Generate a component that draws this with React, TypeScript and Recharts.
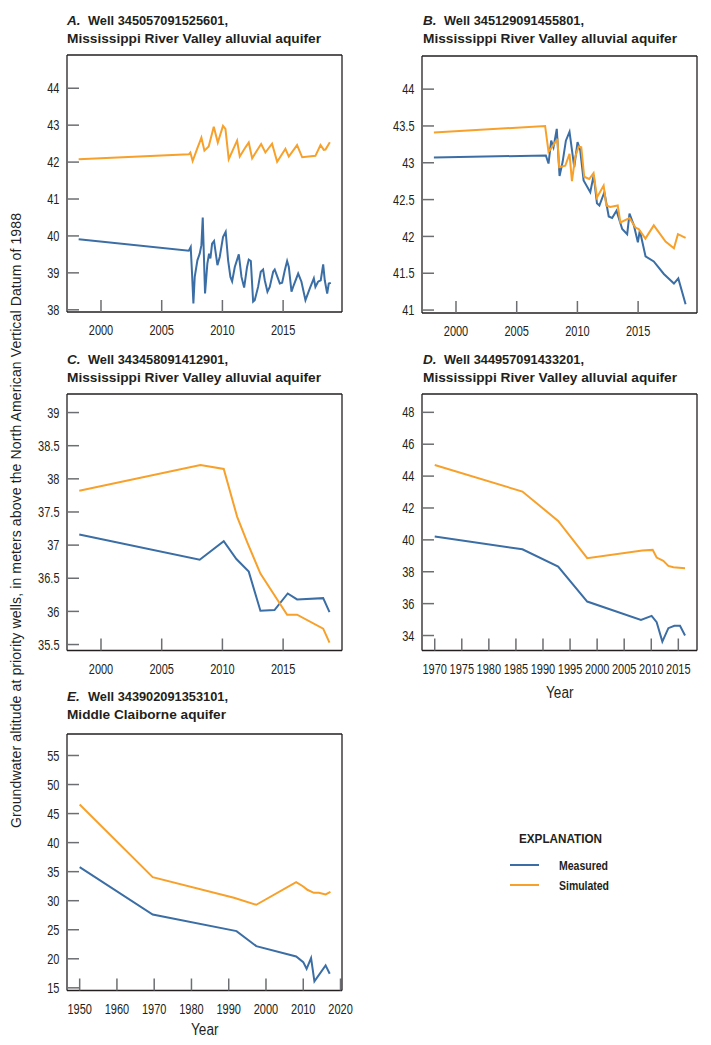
import React from 'react';
import { LineChart, Line, XAxis, YAxis } from 'recharts';

type Pt = { year: number; level: number };

// Panel A, well 345057091525601
const measuredA: Pt[] = [
  { year: 1998.16, level: 39.91 }, { year: 2007.23, level: 39.6 }, { year: 2007.39, level: 39.7 },
  { year: 2007.5, level: 38.98 }, { year: 2007.61, level: 38.17 }, { year: 2007.72, level: 38.89 },
  { year: 2007.94, level: 39.34 }, { year: 2008.13, level: 39.52 }, { year: 2008.27, level: 39.75 },
  { year: 2008.38, level: 40.5 }, { year: 2008.57, level: 38.44 }, { year: 2008.76, level: 39.25 },
  { year: 2008.9, level: 39.52 }, { year: 2009.01, level: 39.39 }, { year: 2009.15, level: 39.79 },
  { year: 2009.31, level: 39.86 }, { year: 2009.59, level: 39.21 }, { year: 2009.78, level: 39.43 },
  { year: 2010.05, level: 39.97 }, { year: 2010.27, level: 40.11 }, { year: 2010.47, level: 39.34 },
  { year: 2010.66, level: 38.89 }, { year: 2010.8, level: 38.77 }, { year: 2011.02, level: 39.16 },
  { year: 2011.35, level: 39.5 }, { year: 2011.57, level: 38.89 }, { year: 2011.79, level: 38.6 },
  { year: 2012.03, level: 39.16 }, { year: 2012.17, level: 39.36 }, { year: 2012.34, level: 39.32 },
  { year: 2012.53, level: 38.22 }, { year: 2012.66, level: 38.26 }, { year: 2012.94, level: 38.62 },
  { year: 2013.16, level: 39.03 }, { year: 2013.35, level: 39.09 }, { year: 2013.49, level: 38.8 },
  { year: 2013.71, level: 38.49 }, { year: 2013.9, level: 38.62 }, { year: 2014.18, level: 39.03 },
  { year: 2014.31, level: 39.09 }, { year: 2014.53, level: 38.89 }, { year: 2014.73, level: 38.71 },
  { year: 2014.92, level: 38.73 }, { year: 2015.14, level: 39.07 }, { year: 2015.33, level: 39.32 },
  { year: 2015.47, level: 39.16 }, { year: 2015.69, level: 38.49 }, { year: 2015.88, level: 38.67 },
  { year: 2016.24, level: 38.98 }, { year: 2016.51, level: 38.76 }, { year: 2016.84, level: 38.26 },
  { year: 2017.2, level: 38.58 }, { year: 2017.53, level: 38.85 }, { year: 2017.66, level: 38.62 },
  { year: 2017.88, level: 38.76 }, { year: 2018.1, level: 38.8 }, { year: 2018.3, level: 39.23 },
  { year: 2018.43, level: 38.8 }, { year: 2018.63, level: 38.44 }, { year: 2018.76, level: 38.71 },
  { year: 2018.93, level: 38.73 },
];
const simulatedA: Pt[] = [
  { year: 1998.16, level: 42.08 }, { year: 2007.23, level: 42.21 }, { year: 2007.36, level: 42.26 },
  { year: 2007.55, level: 42.03 }, { year: 2007.91, level: 42.35 }, { year: 2008.27, level: 42.66 },
  { year: 2008.52, level: 42.31 }, { year: 2008.87, level: 42.42 }, { year: 2009.29, level: 42.96 },
  { year: 2009.62, level: 42.53 }, { year: 2010.05, level: 42.98 }, { year: 2010.25, level: 42.9 },
  { year: 2010.52, level: 42.08 }, { year: 2010.93, level: 42.38 }, { year: 2011.21, level: 42.58 },
  { year: 2011.43, level: 42.15 }, { year: 2011.9, level: 42.4 }, { year: 2012.17, level: 42.53 },
  { year: 2012.45, level: 42.1 }, { year: 2012.86, level: 42.32 }, { year: 2013.19, level: 42.49 },
  { year: 2013.54, level: 42.26 }, { year: 2014.09, level: 42.5 }, { year: 2014.51, level: 42.01 },
  { year: 2015.19, level: 42.36 }, { year: 2015.47, level: 42.15 }, { year: 2016.15, level: 42.46 },
  { year: 2016.57, level: 42.13 }, { year: 2017.66, level: 42.17 }, { year: 2018.08, level: 42.46 },
  { year: 2018.35, level: 42.33 }, { year: 2018.49, level: 42.34 }, { year: 2018.85, level: 42.54 },
];

// Panel B, well 345129091455801
const measuredB: Pt[] = [
  { year: 1998.18, level: 43.07 }, { year: 2007.4, level: 43.1 }, { year: 2007.62, level: 42.99 },
  { year: 2007.84, level: 43.3 }, { year: 2008.03, level: 43.21 }, { year: 2008.3, level: 43.46 },
  { year: 2008.53, level: 42.82 }, { year: 2008.78, level: 43.01 }, { year: 2009.05, level: 43.3 },
  { year: 2009.35, level: 43.42 }, { year: 2009.74, level: 42.94 }, { year: 2010.01, level: 43.28 },
  { year: 2010.23, level: 43.17 }, { year: 2010.51, level: 42.76 }, { year: 2011.06, level: 42.6 },
  { year: 2011.34, level: 42.83 }, { year: 2011.61, level: 42.45 }, { year: 2011.81, level: 42.42 },
  { year: 2012.22, level: 42.6 }, { year: 2012.58, level: 42.27 }, { year: 2012.86, level: 42.25 },
  { year: 2013.22, level: 42.35 }, { year: 2013.69, level: 42.1 }, { year: 2014.1, level: 42.03 },
  { year: 2014.29, level: 42.31 }, { year: 2014.65, level: 42.15 }, { year: 2014.98, level: 41.92 },
  { year: 2015.14, level: 42.08 }, { year: 2015.61, level: 41.73 }, { year: 2016.29, level: 41.66 },
  { year: 2017.12, level: 41.49 }, { year: 2017.95, level: 41.36 }, { year: 2018.31, level: 41.43 },
  { year: 2018.91, level: 41.08 },
];
const simulatedB: Pt[] = [
  { year: 1998.18, level: 43.41 }, { year: 2007.34, level: 43.5 }, { year: 2007.62, level: 43.15 },
  { year: 2007.9, level: 43.21 }, { year: 2008.17, level: 43.28 }, { year: 2008.36, level: 43.31 },
  { year: 2008.5, level: 42.94 }, { year: 2009.0, level: 42.96 }, { year: 2009.35, level: 43.12 },
  { year: 2009.55, level: 42.75 }, { year: 2009.82, level: 43.08 }, { year: 2010.1, level: 43.22 },
  { year: 2010.32, level: 43.21 }, { year: 2010.56, level: 42.81 }, { year: 2010.97, level: 42.78 },
  { year: 2011.33, level: 42.86 }, { year: 2011.61, level: 42.53 }, { year: 2012.16, level: 42.69 },
  { year: 2012.38, level: 42.42 }, { year: 2012.71, level: 42.4 }, { year: 2013.32, level: 42.42 },
  { year: 2013.54, level: 42.19 }, { year: 2014.29, level: 42.25 }, { year: 2014.78, level: 42.12 },
  { year: 2015.05, level: 42.1 }, { year: 2015.6, level: 41.97 }, { year: 2016.29, level: 42.15 },
  { year: 2017.26, level: 41.93 }, { year: 2017.95, level: 41.84 }, { year: 2018.28, level: 42.03 },
  { year: 2018.91, level: 41.98 },
];

// Panel C, well 343458091412901
const measuredC: Pt[] = [
  { year: 1998.21, level: 37.16 }, { year: 2008.13, level: 36.78 }, { year: 2010.11, level: 37.06 },
  { year: 2011.15, level: 36.79 }, { year: 2012.17, level: 36.6 }, { year: 2013.13, level: 36.01 },
  { year: 2014.29, level: 36.02 }, { year: 2015.38, level: 36.27 }, { year: 2016.15, level: 36.18 },
  { year: 2018.3, level: 36.2 }, { year: 2018.82, level: 35.99 },
];
const simulatedC: Pt[] = [
  { year: 1998.21, level: 37.82 }, { year: 2008.19, level: 38.21 }, { year: 2010.11, level: 38.15 },
  { year: 2011.21, level: 37.43 }, { year: 2012.03, level: 37.05 }, { year: 2013.13, level: 36.57 },
  { year: 2015.33, level: 35.95 }, { year: 2016.15, level: 35.95 }, { year: 2018.3, level: 35.74 },
  { year: 2018.82, level: 35.53 },
];

// Panel D, well 344957091433201
const measuredD: Pt[] = [
  { year: 1970, level: 40.21 }, { year: 1986.2, level: 39.41 }, { year: 1992.8, level: 38.33 },
  { year: 1998.17, level: 36.13 }, { year: 2008.1, level: 34.98 }, { year: 2010.07, level: 35.23 },
  { year: 2011.0, level: 34.84 }, { year: 2012.05, level: 33.62 }, { year: 2013.16, level: 34.46 },
  { year: 2014.27, level: 34.61 }, { year: 2015.31, level: 34.61 }, { year: 2016.24, level: 34.0 },
];
const simulatedD: Pt[] = [
  { year: 1970, level: 44.7 }, { year: 1986.2, level: 43.03 }, { year: 1992.8, level: 41.19 },
  { year: 1998.17, level: 38.85 }, { year: 2008.35, level: 39.33 }, { year: 2010.26, level: 39.37 },
  { year: 2011.0, level: 38.89 }, { year: 2012.23, level: 38.68 }, { year: 2013.16, level: 38.37 },
  { year: 2014.08, level: 38.28 }, { year: 2016.24, level: 38.22 },
];

// Panel E, well 343902091353101
const measuredE: Pt[] = [
  { year: 1950, level: 35.78 }, { year: 1969.6, level: 27.63 }, { year: 1992.1, level: 24.77 },
  { year: 1997.4, level: 22.18 }, { year: 2008.1, level: 20.4 }, { year: 2010.0, level: 19.43 },
  { year: 2010.9, level: 18.28 }, { year: 2012.1, level: 20.12 }, { year: 2013.0, level: 16.1 },
  { year: 2016.0, level: 18.86 }, { year: 2017.1, level: 17.42 },
];
const simulatedE: Pt[] = [
  { year: 1950, level: 46.57 }, { year: 1969.6, level: 34.06 }, { year: 1991.4, level: 30.5 },
  { year: 1997.4, level: 29.3 }, { year: 2008.1, level: 33.2 }, { year: 2010.0, level: 32.45 },
  { year: 2011.1, level: 31.88 }, { year: 2012.85, level: 31.36 }, { year: 2014.2, level: 31.36 },
  { year: 2016.0, level: 31.08 }, { year: 2017.3, level: 31.53 },
];

const recentYearTicks = [2000, 2005, 2010, 2015];
const longYearTicksD = [1970, 1975, 1980, 1985, 1990, 1995, 2000, 2005, 2010, 2015];
const longYearTicksE = [1950, 1960, 1970, 1980, 1990, 2000, 2010, 2020];
const levelTicksA = [38, 39, 40, 41, 42, 43, 44];
const levelTicksB = [41, 41.5, 42, 42.5, 43, 43.5, 44];
const levelTicksC = [35.5, 36, 36.5, 37, 37.5, 38, 38.5, 39];
const levelTicksD = [34, 36, 38, 40, 42, 44, 46, 48];
const levelTicksE = [15, 20, 25, 30, 35, 40, 45, 50, 55];

const BLUE = '#3b6ea5';
const ORANGE = '#f7a12b';
const INK = '#231f20';
const SANS = "'Liberation Sans', Arial, sans-serif";
// the source uses a condensed face; squeeze Liberation Sans to match
const SQUEEZE = 0.76;

const Y_AXIS_W = 52;
const X_AXIS_H = 36;
const RIGHT_PAD = 24;

const XTick = (props: any) => {
  const { x, y, payload } = props;
  return (
    <g transform={`translate(${x},${y}) scale(${SQUEEZE},1)`}>
      <text x={0} y={0} dy="0.71em" textAnchor="middle" fontFamily={SANS} fontSize={14.5} fill={INK}>
        {payload.value}
      </text>
    </g>
  );
};

const YTick = (props: any) => {
  const { x, y, payload } = props;
  return (
    <g transform={`translate(${x},${y}) scale(${SQUEEZE},1)`}>
      <text x={0} y={0} dy="0.355em" textAnchor="end" fontFamily={SANS} fontSize={14.5} fill={INK}>
        {payload.value}
      </text>
    </g>
  );
};

interface PanelProps {
  left: number;
  top: number;
  plotW: number;
  plotH: number;
  xDomain: [number, number];
  xTicks: number[];
  yDomain: [number, number];
  yTicks: number[];
  measured: Pt[];
  simulated: Pt[];
}

const frameLine = { stroke: INK, strokeWidth: 1.3 };
const tickLine = { stroke: '#6d6e71', strokeWidth: 1.5 };

const Panel: React.FC<PanelProps> = ({ left, top, plotW, plotH, xDomain, xTicks, yDomain, yTicks, measured, simulated }) => (
  <div style={{ position: 'absolute', left: left - Y_AXIS_W, top: top - 1 }}>
    <LineChart width={plotW + Y_AXIS_W + 1 + RIGHT_PAD} height={plotH + 1 + X_AXIS_H}
      margin={{ top: 0, right: RIGHT_PAD, bottom: 0, left: 0 }}>
      <XAxis xAxisId="b" type="number" dataKey="year" domain={xDomain} ticks={xTicks} allowDataOverflow interval={0}
        height={X_AXIS_H} tickSize={-12} tickMargin={25} axisLine={frameLine} tickLine={tickLine} tick={<XTick />} />
      <XAxis xAxisId="t" orientation="top" type="number" dataKey="year" domain={xDomain} ticks={xTicks} allowDataOverflow
        interval={0} height={1} tickSize={-12} axisLine={frameLine} tickLine={tickLine} tick={false} />
      <YAxis yAxisId="l" type="number" domain={yDomain} ticks={yTicks} allowDataOverflow interval={0}
        width={Y_AXIS_W} tickSize={-12} tickMargin={19.5} axisLine={frameLine} tickLine={tickLine} tick={<YTick />} />
      <YAxis yAxisId="r" orientation="right" type="number" domain={yDomain} ticks={yTicks} allowDataOverflow interval={0}
        width={1} tickSize={-12} axisLine={frameLine} tickLine={tickLine} tick={false} />
      <Line xAxisId="b" yAxisId="l" data={measured} dataKey="level" type="linear" stroke={BLUE} strokeWidth={2}
        dot={false} activeDot={false} isAnimationActive={false} />
      <Line xAxisId="b" yAxisId="l" data={simulated} dataKey="level" type="linear" stroke={ORANGE} strokeWidth={2}
        dot={false} activeDot={false} isAnimationActive={false} />
    </LineChart>
  </div>
);

const Title = ({ x, y, letter, well, aquifer, aquiferW }: {
  x: number; y: number; letter: string; well: string; aquifer: string; aquiferW: number;
}) => (
  <g fontFamily={SANS} fontWeight="bold" fill={INK}>
    <text x={x} y={y} fontSize={13.5} fontStyle="italic">{letter}.</text>
    <text x={x + 21} y={y} fontSize={12.8} textLength={140} lengthAdjust="spacingAndGlyphs">Well {well},</text>
    <text x={x} y={y + 18} fontSize={13.5} textLength={aquiferW} lengthAdjust="spacingAndGlyphs">{aquifer}</text>
  </g>
);

const MRVA = 'Mississippi River Valley alluvial aquifer';

export default function App() {
  return (
    <div style={{ position: 'absolute', left: 0, top: 0, width: 711, height: 1045, background: '#fff' }}>
      <svg width={711} height={1045} style={{ position: 'absolute', left: 0, top: 0 }}>
        <Title x={67} y={25} letter="A" well="345057091525601" aquifer={MRVA} aquiferW={254} />
        <Title x={423} y={25} letter="B" well="345129091455801" aquifer={MRVA} aquiferW={254} />
        <Title x={67} y={363.5} letter="C" well="343458091412901" aquifer={MRVA} aquiferW={254} />
        <Title x={423} y={363.5} letter="D" well="344957091433201" aquifer={MRVA} aquiferW={254} />
        <Title x={67} y={701} letter="E" well="343902091353101" aquifer="Middle Claiborne aquifer" aquiferW={159} />
        <text x={21} y={520.5} transform="rotate(-90 21 520.5)" textAnchor="middle" fontFamily={SANS}
          fontSize={14} fill={INK} textLength={615} lengthAdjust="spacing">
          Groundwater altitude at priority wells, in meters above the North American Vertical Datum of 1988
        </text>
        <text x={546} y={698} fontFamily={SANS} fontSize={16} fill={INK} textLength={27.5}
          lengthAdjust="spacingAndGlyphs">Year</text>
        <text x={191} y={1035} fontFamily={SANS} fontSize={16} fill={INK} textLength={27.5}
          lengthAdjust="spacingAndGlyphs">Year</text>
        <g fontFamily={SANS} fontWeight="bold" fill={INK}>
          <text x={519} y={843} fontSize={13} textLength={83} lengthAdjust="spacingAndGlyphs">EXPLANATION</text>
          <line x1={510} x2={539} y1={865} y2={865} stroke={BLUE} strokeWidth={2} />
          <line x1={510} x2={539} y1={885} y2={885} stroke={ORANGE} strokeWidth={2} />
          <text x={559} y={870} fontSize={12} textLength={49} lengthAdjust="spacingAndGlyphs">Measured</text>
          <text x={559} y={890} fontSize={12} textLength={50} lengthAdjust="spacingAndGlyphs">Simulated</text>
        </g>
      </svg>
      <Panel left={66.5} top={55} plotW={275} plotH={257} xDomain={[1997.2, 2019.85]} xTicks={recentYearTicks}
        yDomain={[37.94, 44.9]} yTicks={levelTicksA} measured={measuredA} simulated={simulatedA} />
      <Panel left={422.3} top={55.5} plotW={275} plotH={257} xDomain={[1997.2, 2019.85]} xTicks={recentYearTicks}
        yDomain={[40.96, 44.45]} yTicks={levelTicksB} measured={measuredB} simulated={simulatedB} />
      <Panel left={66.5} top={394} plotW={275} plotH={256.5} xDomain={[1997.2, 2019.85]} xTicks={recentYearTicks}
        yDomain={[35.41, 39.28]} yTicks={levelTicksC} measured={measuredC} simulated={simulatedC} />
      <Panel left={422.3} top={394} plotW={275} plotH={256.5} xDomain={[1967.65, 2018.45]} xTicks={longYearTicksD}
        yDomain={[33.06, 49.15]} yTicks={levelTicksD} measured={measuredD} simulated={simulatedD} />
      <Panel left={66.5} top={733.5} plotW={275} plotH={256.5} xDomain={[1946.6, 2020.4]} xTicks={longYearTicksE}
        yDomain={[14.54, 58.7]} yTicks={levelTicksE} measured={measuredE} simulated={simulatedE} />
    </div>
  );
}
